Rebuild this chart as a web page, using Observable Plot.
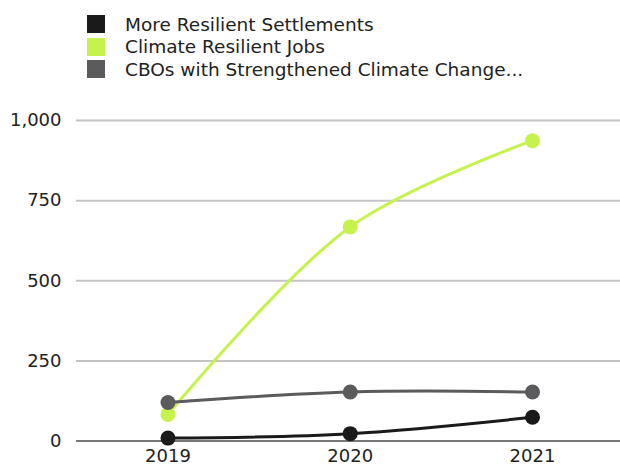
<!DOCTYPE html>
<html><head><meta charset="utf-8">
<script src="https://cdn.jsdelivr.net/npm/d3@7"></script>
<script src="https://cdn.jsdelivr.net/npm/@observablehq/plot@0.6"></script>
<style>
body{margin:0;background:#fff;font-family:"DejaVu Sans",sans-serif;}
#legend{height:90px;box-sizing:border-box;padding-top:13px;padding-left:87px;}
.item{display:flex;align-items:center;height:22.5px;font-size:18.5px;color:#222;}
.sw{width:18px;height:18px;margin-right:20px;}
</style></head>
<body>
<div id="legend"></div>
<div id="chart"></div>
<script>
const years = [2019, 2020, 2021];
const seriesNames = ["More Resilient Settlements", "Climate Resilient Jobs", "CBOs with Strengthened Climate Change..."];
const settlements = [9, 23, 74];
const jobs = [83, 668, 937];
const cbos = [120, 153, 153];
const colors = ["#1b1a1a", "#c6f24e", "#5b5b5d"];
const yTicks = [0, 250, 500, 750, 1000];

const leg = document.getElementById("legend");
seriesNames.forEach((n, i) => {
  const d = document.createElement("div"); d.className = "item";
  const s = document.createElement("div"); s.className = "sw"; s.style.background = colors[i];
  const t = document.createElement("span"); t.textContent = n;
  d.appendChild(s); d.appendChild(t); leg.appendChild(d);
});

const values = [settlements, jobs, cbos];
const data = [];
const drawOrder = [1, 0, 2];
drawOrder.forEach(i => years.forEach((y, j) => data.push({series: seriesNames[i], year: y, value: values[i][j]})));

const plot = Plot.plot({
  width: 620,
  height: 377,
  marginTop: 30,
  marginBottom: 26.5,
  marginLeft: 76,
  marginRight: 0,
  style: {fontFamily: "'DejaVu Sans', sans-serif", fontSize: "18px", color: "#222", background: "#fff"},
  x: {type: "linear", domain: [2019, 2021], range: [167.5, 532], label: null},
  y: {domain: [0, 1000], label: null},
  color: {domain: seriesNames, range: colors},
  marks: [
    Plot.ruleY(yTicks.filter(d => d > 0), {stroke: "#c4c4c4", strokeWidth: 2}),
    Plot.ruleY([0], {stroke: "#777", strokeWidth: 2}),
    Plot.line(data, {x: "year", y: "value", z: "series", stroke: "series", strokeWidth: 3, curve: "catmull-rom"}),
    Plot.dot(data, {x: "year", y: "value", fill: "series", r: 7.5}),
    Plot.axisX({ticks: years, tickFormat: d => String(d), tickSize: 0, tickPadding: 8, fontSize: 18}),
    Plot.axisY({ticks: yTicks, tickSize: 0, tickPadding: 15, fontSize: 18})
  ]
});
document.getElementById("chart").appendChild(plot);
</script>
</body></html>
